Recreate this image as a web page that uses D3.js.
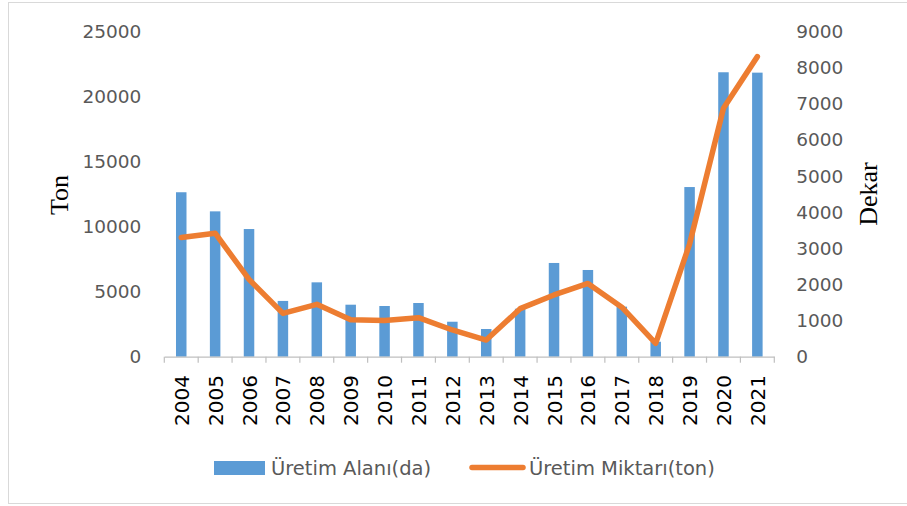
<!DOCTYPE html>
<html>
<head>
<meta charset="utf-8">
<script src="https://cdn.jsdelivr.net/npm/d3@7"></script>
<style>
  html, body { margin: 0; padding: 0; background: #fff; }
</style>
</head>
<body>
<div id="chart"></div>
<script>
"use strict";

const years = ["2004", "2005", "2006", "2007", "2008", "2009", "2010", "2011", "2012",
  "2013", "2014", "2015", "2016", "2017", "2018", "2019", "2020", "2021"];
// bars, read against the left axis
const uretimAlani = [12650, 11180, 9820, 4290, 5720, 4000, 3900, 4130, 2690,
  2130, 3690, 7210, 6670, 3850, 1150, 13050, 21880, 21850];
// line, read against the right axis
const uretimMiktari = [3300, 3420, 2140, 1200, 1450, 1020, 1000, 1080, 740,
  460, 1330, 1710, 2030, 1370, 370, 3120, 6880, 8310];
const leftTicks = [0, 5000, 10000, 15000, 20000, 25000];
const rightTicks = [0, 1000, 2000, 3000, 4000, 5000, 6000, 7000, 8000, 9000];
const seriesNames = ["Üretim Alanı(da)", "Üretim Miktarı(ton)"];

const width = 907;
const height = 506;
const plotLeft = 164.3;
const plotRight = 774.3;
const plotTop = 31.7;
const plotBottom = 356.7;
const barColor = "#5B9BD5";
const lineColor = "#ED7D31";

const svg = d3.select("#chart")
  .append("svg")
  .attr("width", width)
  .attr("height", height)
;

svg.append("rect")
  .attr("x", 8.5)
  .attr("y", 2.5)
  .attr("width", width)
  .attr("height", 501)
  .attr("fill", "#fff")
  .attr("stroke", "#D9D9D9")
;

const xScale = d3.scaleBand()
  .domain(years)
  .range([plotLeft, plotRight])
  .padding(0)
;
const yLeft = d3.scaleLinear().domain([0, 25000]).range([plotBottom, plotTop]);
const yRight = d3.scaleLinear().domain([0, 9000]).range([plotBottom, plotTop]);

const barWidth = xScale.bandwidth() * 0.31;

svg.append("g")
  .selectAll("rect")
  .data(years)
  .enter()
  .append("rect")
  .attr("x", d => xScale(d) + (xScale.bandwidth() - barWidth) / 2)
  .attr("y", (d, i) => yLeft(uretimAlani[i]))
  .attr("width", barWidth)
  .attr("height", (d, i) => plotBottom - yLeft(uretimAlani[i]))
  .attr("fill", barColor)
;

// category axis
const xAxis = d3.axisBottom(xScale).tickSize(0).tickFormat("");
const xg = svg.append("g")
  .attr("transform", `translate(0, ${plotBottom})`)
  .call(xAxis)
;
xg.select(".domain").attr("stroke", "#BFBFBF").attr("stroke-width", 1.2);
xg.selectAll(".tick").remove();

xg.selectAll("line.sep")
  .data(d3.range(years.length + 1))
  .enter()
  .append("line")
  .attr("class", "sep")
  .attr("x1", i => plotLeft + i * xScale.step())
  .attr("x2", i => plotLeft + i * xScale.step())
  .attr("y1", 0)
  .attr("y2", 6)
  .attr("stroke", "#BFBFBF")
  .attr("stroke-width", 1.2)
;

svg.append("g")
  .selectAll("text")
  .data(years)
  .enter()
  .append("text")
  .attr("transform", d => `translate(${xScale(d) + xScale.bandwidth() / 2 + 7.5}, 375) rotate(-90)`)
  .attr("text-anchor", "end")
  .attr("font-family", "DejaVu Sans")
  .attr("font-size", 20)
  .attr("fill", "#000")
  .text(d => d)
;

// value axes
const leftAxis = d3.axisLeft(yLeft).tickValues(leftTicks).tickSize(0).tickPadding(23).tickFormat(d3.format("d"));
const lg = svg.append("g")
  .attr("transform", `translate(${plotLeft}, 0)`)
  .call(leftAxis)
;
lg.select(".domain").remove();
lg.selectAll("text")
  .attr("font-family", "DejaVu Sans")
  .attr("font-size", 18.5)
  .attr("fill", "#595959")
;

const rightAxis = d3.axisRight(yRight).tickValues(rightTicks).tickSize(0).tickPadding(22).tickFormat(d3.format("d"));
const rg = svg.append("g")
  .attr("transform", `translate(${plotRight}, 0)`)
  .call(rightAxis)
;
rg.select(".domain").remove();
rg.selectAll("text")
  .attr("font-family", "DejaVu Sans")
  .attr("font-size", 18.5)
  .attr("fill", "#595959")
;

// line
const line = d3.line()
  .x((d, i) => xScale(years[i]) + xScale.bandwidth() / 2)
  .y(d => yRight(d))
;
svg.append("path")
  .datum(uretimMiktari)
  .attr("d", line)
  .attr("fill", "none")
  .attr("stroke", lineColor)
  .attr("stroke-width", 5.5)
  .attr("stroke-linejoin", "round")
  .attr("stroke-linecap", "round")
;

// axis titles
svg.append("text")
  .attr("transform", "translate(68, 195) rotate(-90)")
  .attr("text-anchor", "middle")
  .attr("font-family", "Liberation Serif")
  .attr("font-size", 26)
  .attr("fill", "#000")
  .text("Ton")
;
svg.append("text")
  .attr("transform", "translate(877, 194) rotate(-90)")
  .attr("text-anchor", "middle")
  .attr("font-family", "Liberation Serif")
  .attr("font-size", 26)
  .attr("fill", "#000")
  .text("Dekar")
;

// legend
const legend = svg.append("g");
legend.append("rect")
  .attr("x", 214)
  .attr("y", 461)
  .attr("width", 51)
  .attr("height", 14)
  .attr("fill", barColor)
;
legend.append("text")
  .attr("x", 271)
  .attr("y", 474.5)
  .attr("font-family", "DejaVu Sans")
  .attr("font-size", 19.5)
  .attr("fill", "#595959")
  .text(seriesNames[0])
;
legend.append("line")
  .attr("x1", 472)
  .attr("x2", 523)
  .attr("y1", 467.5)
  .attr("y2", 467.5)
  .attr("stroke", lineColor)
  .attr("stroke-width", 5.5)
  .attr("stroke-linecap", "round")
;
legend.append("text")
  .attr("x", 529)
  .attr("y", 474.5)
  .attr("font-family", "DejaVu Sans")
  .attr("font-size", 19.5)
  .attr("fill", "#595959")
  .text(seriesNames[1])
;
</script>
</body>
</html>
